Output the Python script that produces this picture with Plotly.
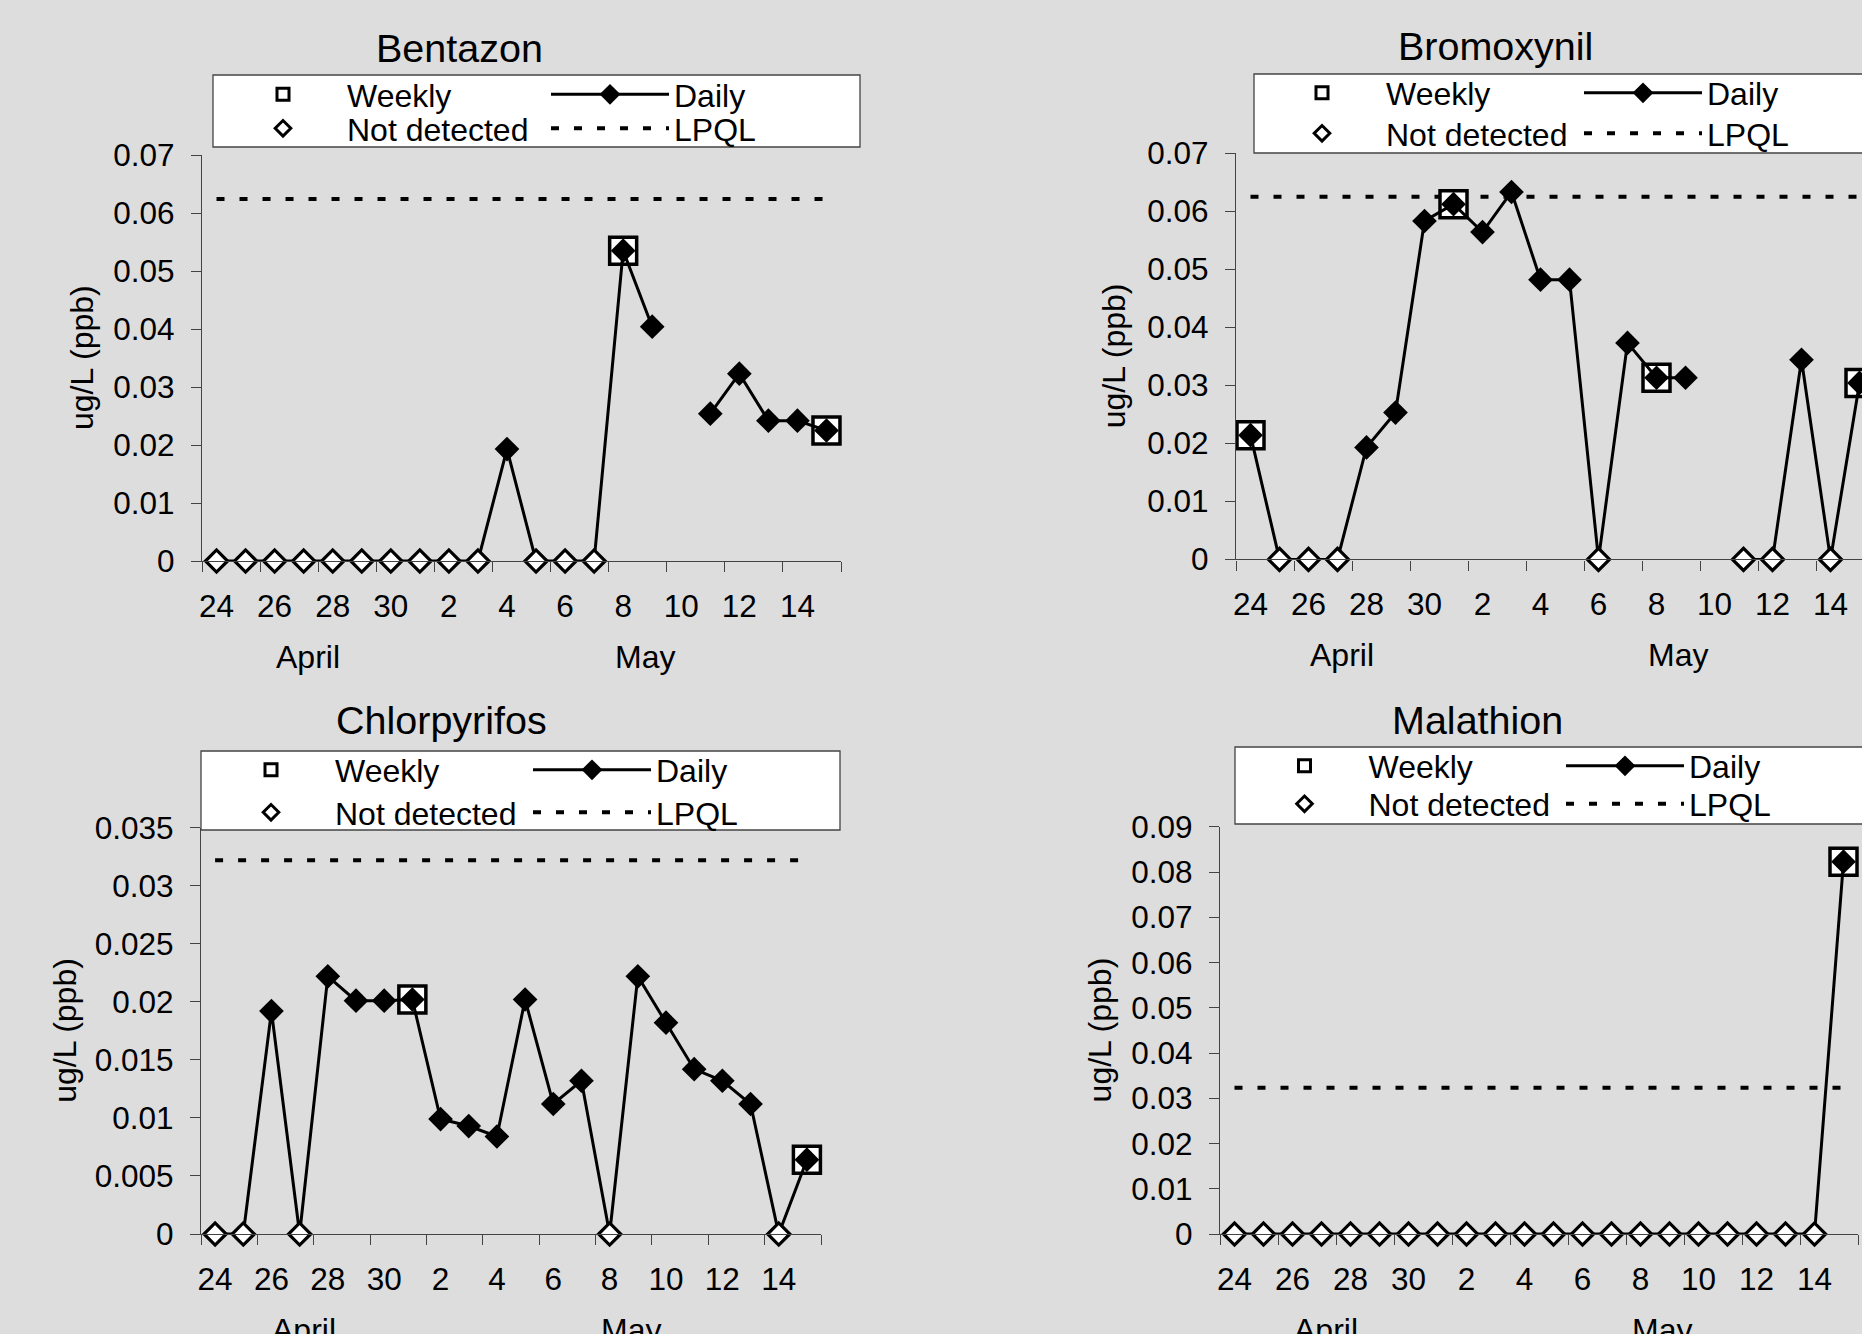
import plotly.graph_objects as go

W, H = 1862, 1334
FONT = "Liberation Sans, Arial, sans-serif"
BG = "#DDDDDD"
AXIS = "#444444"

# ---------------- data ----------------
DAYS = ["24", "25", "26", "27", "28", "29", "30",
        "1", "2", "3", "4", "5", "6", "7", "8", "9", "10", "11", "12", "13", "14", "15"]
MONTHS = ["April", "May"]
TICK_DAYS = ["24", "26", "28", "30", "2", "4", "6", "8", "10", "12", "14"]

BENTAZON_DAILY = [0, 0, 0, 0, 0, 0, 0, 0, 0, 0, 0.0193, 0, 0, 0, 0.0535, 0.0404,
                  None, 0.0254, 0.0323, 0.0242, 0.0242, 0.0225]
BENTAZON_ND = ["24", "25", "26", "27", "28", "29", "30", "1", "2", "3", "5", "6", "7"]
BENTAZON_WEEKLY_DAYS = ["8", "15"]
BENTAZON_WEEKLY = [0.0535, 0.0225]
BENTAZON_LPQL = 0.0624

BROMOXYNIL_DAILY = [0.0214, 0, 0, 0, 0.0193, 0.0253, 0.0583, 0.0612, 0.0564, 0.0633, 0.0482,
                    0.0482, 0, 0.0373, 0.0313, 0.0313, None, 0, 0, 0.0344, 0, 0.0304]
BROMOXYNIL_ND = ["25", "26", "27", "6", "11", "12", "14"]
BROMOXYNIL_WEEKLY_DAYS = ["24", "1", "8", "15"]
BROMOXYNIL_WEEKLY = [0.0214, 0.0612, 0.0313, 0.0304]
BROMOXYNIL_LPQL = 0.0625

CHLORPYRIFOS_DAILY = [0, 0, 0.0192, 0, 0.0222, 0.0201, 0.0201, 0.0202, 0.0099, 0.0093, 0.0084,
                      0.0202, 0.0112, 0.0132, 0, 0.0222, 0.0182, 0.0142, 0.0132, 0.0112, 0, 0.0064]
CHLORPYRIFOS_ND = ["24", "25", "27", "8", "14"]
CHLORPYRIFOS_WEEKLY_DAYS = ["1", "15"]
CHLORPYRIFOS_WEEKLY = [0.0202, 0.0064]
CHLORPYRIFOS_LPQL = 0.0322

MALATHION_DAILY = [0, 0, 0, 0, 0, 0, 0, 0, 0, 0, 0, 0, 0, 0, 0, 0, 0, 0, 0, 0, 0, 0.0823]
MALATHION_ND = ["24", "25", "26", "27", "28", "29", "30", "1", "2", "3", "4", "5", "6", "7",
                "8", "9", "10", "11", "12", "13", "14"]
MALATHION_WEEKLY_DAYS = ["15"]
MALATHION_WEEKLY = [0.0823]
MALATHION_LPQL = 0.0323

# ---------------- layout helpers ----------------
def px_x(v):
    return v / W


def px_y(v):
    return 1 - v / H


X_IDX = list(range(len(DAYS)))


def idx(day):
    return DAYS.index(day)


PANELS = [
    dict(name="Bentazon", daily=BENTAZON_DAILY, nd=BENTAZON_ND, wd=BENTAZON_WEEKLY_DAYS,
         wv=BENTAZON_WEEKLY, lpql=BENTAZON_LPQL, ymax=0.07, dtick=0.01,
         xpx=(202, 841), ypx=(561, 155), xmax=None, title=(459, 48),
         ytitle_x=82, box=(213, 75, 860, 147), leg_x=219, rows=(94.5, 128.5), ew=194),
    dict(name="Bromoxynil", daily=BROMOXYNIL_DAILY, nd=BROMOXYNIL_ND, wd=BROMOXYNIL_WEEKLY_DAYS,
         wv=BROMOXYNIL_WEEKLY, lpql=BROMOXYNIL_LPQL, ymax=0.07, dtick=0.01,
         xpx=(1236, 1862), ypx=(559.4, 153.1), xmax=-0.5 + (1862 - 1236) / 29.0, title=(1495, 46),
         ytitle_x=1114, box=(1254, 74, 1880, 153), leg_x=1258, rows=(93, 133.5), ew=188),
    dict(name="Chlorpyrifos", daily=CHLORPYRIFOS_DAILY, nd=CHLORPYRIFOS_ND, wd=CHLORPYRIFOS_WEEKLY_DAYS,
         wv=CHLORPYRIFOS_WEEKLY, lpql=CHLORPYRIFOS_LPQL, ymax=0.035, dtick=0.005,
         xpx=(201, 821), ypx=(1234, 827.7), xmax=None, title=(441, 720),
         ytitle_x=65, box=(201, 751, 840, 830), leg_x=207, rows=(770, 812.5), ew=188),
    dict(name="Malathion", daily=MALATHION_DAILY, nd=MALATHION_ND, wd=MALATHION_WEEKLY_DAYS,
         wv=MALATHION_WEEKLY, lpql=MALATHION_LPQL, ymax=0.09, dtick=0.01,
         xpx=(1220, 1858), ypx=(1234, 826.8), xmax=None, title=(1477, 720),
         ytitle_x=1100, box=(1235, 747, 1880, 824), leg_x=1240.5, rows=(766, 804), ew=187.5),
]

MONTH_POS = [3.15, 14.75]

fig = go.Figure()
layout = dict(
    template="none",
    width=W, height=H,
    margin=dict(l=0, r=0, t=0, b=0, pad=0, autoexpand=False),
    paper_bgcolor=BG, plot_bgcolor=BG,
    font=dict(family=FONT, size=31.5, color="black"),
    showlegend=True,
    annotations=[], shapes=[],
)

for k, p in enumerate(PANELS):
    n = "" if k == 0 else str(k + 1)
    xa, ya = "x" + n, "y" + n
    la = "legend" + ("" if k == 0 else str(2 * k + 1))
    lb = "legend" + str(2 * k + 2)

    # LPQL dashed line
    fig.add_trace(go.Scatter(
        x=[X_IDX[0], X_IDX[-1]], y=[p["lpql"], p["lpql"]], mode="lines",
        line=dict(color="black", width=4, dash="8px,15px"),
        xaxis=xa, yaxis=ya, showlegend=False, hoverinfo="skip", cliponaxis=False))
    # Weekly squares
    fig.add_trace(go.Scatter(
        x=[idx(d) for d in p["wd"]], y=p["wv"], mode="markers",
        marker=dict(symbol="square", size=27, color="white", line=dict(color="black", width=3.5)),
        xaxis=xa, yaxis=ya, showlegend=False, cliponaxis=False, name="Weekly"))
    # Daily line
    fig.add_trace(go.Scatter(
        x=X_IDX, y=p["daily"], mode="lines+markers",
        line=dict(color="black", width=3),
        marker=dict(symbol="diamond", size=19, color="black"),
        connectgaps=False,
        xaxis=xa, yaxis=ya, showlegend=False, cliponaxis=False, name="Daily"))
    # Not detected
    fig.add_trace(go.Scatter(
        x=[idx(d) for d in p["nd"]], y=[p["daily"][idx(d)] for d in p["nd"]], mode="markers",
        marker=dict(symbol="diamond", size=17, color="white", line=dict(color="black", width=3.2)),
        xaxis=xa, yaxis=ya, showlegend=False, cliponaxis=False, name="Not detected"))

    # legend-only entries
    fig.add_trace(go.Scatter(
        x=[None], y=[None], mode="markers", name="Weekly", legend=la, legendwidth=p["ew"],
        marker=dict(symbol="square", size=12, color="white", line=dict(color="black", width=3)),
        xaxis=xa, yaxis=ya))
    fig.add_trace(go.Scatter(
        x=[None], y=[None], mode="lines+markers", name="Daily", legend=la,
        line=dict(color="black", width=3),
        marker=dict(symbol="diamond", size=16, color="black"),
        xaxis=xa, yaxis=ya))
    fig.add_trace(go.Scatter(
        x=[None], y=[None], mode="markers", name="Not detected", legend=lb, legendwidth=p["ew"],
        marker=dict(symbol="diamond", size=12, color="white", line=dict(color="black", width=3)),
        xaxis=xa, yaxis=ya))
    fig.add_trace(go.Scatter(
        x=[None], y=[None], mode="lines", name="LPQL", legend=lb,
        line=dict(color="black", width=4, dash="8px,15px"),
        xaxis=xa, yaxis=ya))

    x0, x1 = p["xpx"]
    yb, yt = p["ypx"]
    xmax = p["xmax"] if p["xmax"] is not None else len(DAYS) - 0.5
    layout["xaxis" + n] = dict(
        domain=[px_x(x0), px_x(x1)], anchor=ya, range=[-0.5, xmax], automargin=False,
        showline=True, linecolor=AXIS, linewidth=1.2, showgrid=False, zeroline=False,
        tickmode="array", tickvals=[idx(d) for d in TICK_DAYS], ticktext=TICK_DAYS,
        ticks="", ticklabelstandoff=17, tickfont=dict(size=31.5),
        minor=dict(tickmode="array", tickvals=[i - 0.5 for i in range(0, len(DAYS) + 1, 2)],
                   ticks="outside", ticklen=10, tickwidth=1.2, tickcolor=AXIS, showgrid=False),
        fixedrange=True)
    layout["yaxis" + n] = dict(
        domain=[px_y(yb), px_y(yt)], anchor=xa, range=[0, p["ymax"]], automargin=False,
        showline=True, linecolor=AXIS, linewidth=1.2, showgrid=False, zeroline=False,
        tickmode="linear", tick0=0, dtick=p["dtick"], ticks="outside", ticklen=10,
        tickwidth=1.2, tickcolor=AXIS, ticklabelstandoff=10, tickfont=dict(size=31.5),
        fixedrange=True)

    # legend box
    bx0, by0, bx1, by1 = p["box"]
    layout["shapes"].append(dict(
        type="rect", xref="paper", yref="paper", layer="above",
        x0=px_x(bx0), x1=px_x(bx1), y0=px_y(by1), y1=px_y(by0),
        fillcolor="white", line=dict(color=AXIS, width=1.3)))
    legend_common = dict(
        orientation="h", bgcolor="rgba(0,0,0,0)", borderwidth=0,
        font=dict(family=FONT, size=32, color="black"), itemwidth=118,
        xanchor="left", yanchor="middle", itemclick=False, itemdoubleclick=False,
        traceorder="normal", xref="paper", yref="paper")
    layout[la] = dict(legend_common, x=px_x(p["leg_x"]), y=px_y(p["rows"][0]))
    layout[lb] = dict(legend_common, x=px_x(p["leg_x"]), y=px_y(p["rows"][1]))

    # titles
    tx, ty = p["title"]
    layout["annotations"].append(dict(
        text=p["name"], xref="paper", yref="paper", x=px_x(tx), y=px_y(ty),
        xanchor="center", yanchor="middle", showarrow=False, font=dict(size=39.5)))
    layout["annotations"].append(dict(
        text="ug/L (ppb)", xref="paper", yref="paper", x=px_x(p["ytitle_x"]),
        y=px_y((yb + yt) / 2), textangle=-90, xanchor="center", yanchor="middle",
        showarrow=False, font=dict(size=32)))
    for m, pos in zip(MONTHS, MONTH_POS):
        layout["annotations"].append(dict(
            text=m, xref=xa, yref=ya + " domain", x=pos, y=0, yshift=-96,
            xanchor="center", yanchor="middle", showarrow=False, font=dict(size=32)))

fig.update_layout(**layout)
fig.write_html("out.html", config={"displayModeBar": False},
               post_script="document.body.style.margin='0';document.body.style.overflow='hidden';")
